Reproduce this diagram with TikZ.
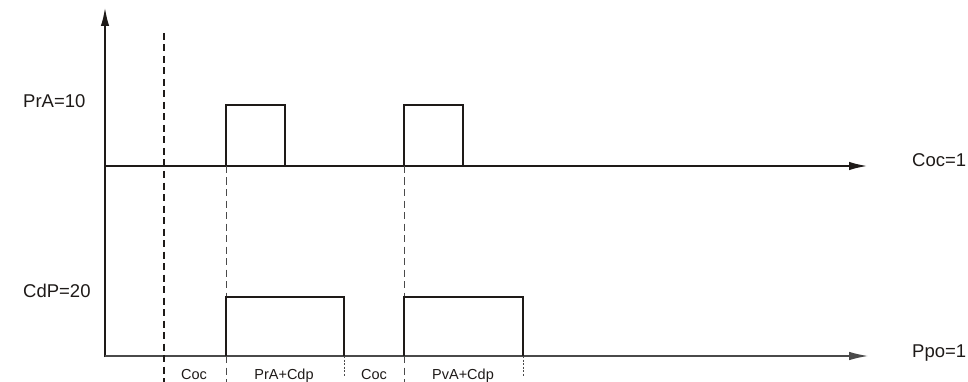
\documentclass[tikz,border=0pt]{standalone}
\usepackage{fontspec}
\setmainfont{Liberation Sans}
\usetikzlibrary{arrows.meta}
\definecolor{ink}{HTML}{1E1A18}
\definecolor{thin}{HTML}{4A4A4A}
\tikzset{
  axisthick/.style={line width=2.3pt, draw=ink, -{Latex[length=19pt,width=8.5pt]}},
  axisthin/.style={line width=1.2pt, draw=thin, -{Latex[length=19pt,width=8.5pt]}},
  pulse/.style={line width=2.6pt, draw=ink},
  guide/.style={line width=1.2pt, draw=ink, dash pattern=on 7pt off 4.5pt},
  guidethin/.style={line width=1pt, draw=thin, dash pattern=on 7pt off 4.5pt},
  dotguide/.style={line width=0.9pt, draw=thin, dash pattern=on 2pt off 1.5pt},
  biglabel/.style={font=\fontsize{18.5}{20}\selectfont, text=ink, inner sep=0pt, anchor=base west},
  smalllabel/.style={font=\fontsize{14.5}{17}\selectfont, text=ink, inner sep=0pt, anchor=base}
}
\begin{document}
\begin{tikzpicture}[x=1pt,y=-1pt]
\useasboundingbox (0,0) rectangle (968,382);
% coordinates
\coordinate (O) at (105,356);
\coordinate (Ybot) at (105,357);
\coordinate (Ytip) at (105,7);
\coordinate (A0) at (105,166);
\coordinate (A1) at (868,166);
\coordinate (B1) at (868,356);
% axes
\draw[axisthick] (Ybot) -- (Ytip);
\draw[axisthick] (A0) -- (A1);
\draw[axisthin] (O) -- (B1);
% guides
\coordinate (g0t) at (164,33);
\coordinate (g0b) at (164,382);
\draw[guide] (g0t) -- (g0b);
\foreach \x/\n in {226/a,404/b}{
  \coordinate (\n1) at (\x,166);
  \coordinate (\n2) at (\x,297);
  \coordinate (\n3) at (\x,356);
  \coordinate (\n4) at (\x,382);
  \draw[guidethin] (\n1) -- (\n2);
  \draw[guidethin] (\n3) -- (\n4);
}
\foreach \x/\n in {344/c,523/d}{
  \coordinate (\n1) at (\x,356);
  \coordinate (\n2) at (\x,376);
  \draw[dotguide] (\n1) -- (\n2);
}
% top pulses
\draw[pulse] (226,166) -- (226,105) -- (285,105) -- (285,166);
\draw[pulse] (404,166) -- (404,105) -- (463,105) -- (463,166);
% bottom pulses
\draw[pulse] (226,356) -- (226,297) -- (344,297) -- (344,356);
\draw[pulse] (404,356) -- (404,297) -- (523,297) -- (523,356);
% labels
\node[biglabel] (lPrA) at (23,108) {PrA=10};
\node[biglabel] (lCdP) at (23,297) {CdP=20};
\node[biglabel] (lCoc) at (912,167) {Coc=1};
\node[biglabel] (lPpo) at (912,357) {Ppo=1};
\node[smalllabel] (s1) at (194,379) {Coc};
\node[smalllabel] (s2) at (284,379) {PrA+Cdp};
\node[smalllabel] (s3) at (374,379) {Coc};
\node[smalllabel] (s4) at (463,379) {PvA+Cdp};
\end{tikzpicture}
\end{document}
